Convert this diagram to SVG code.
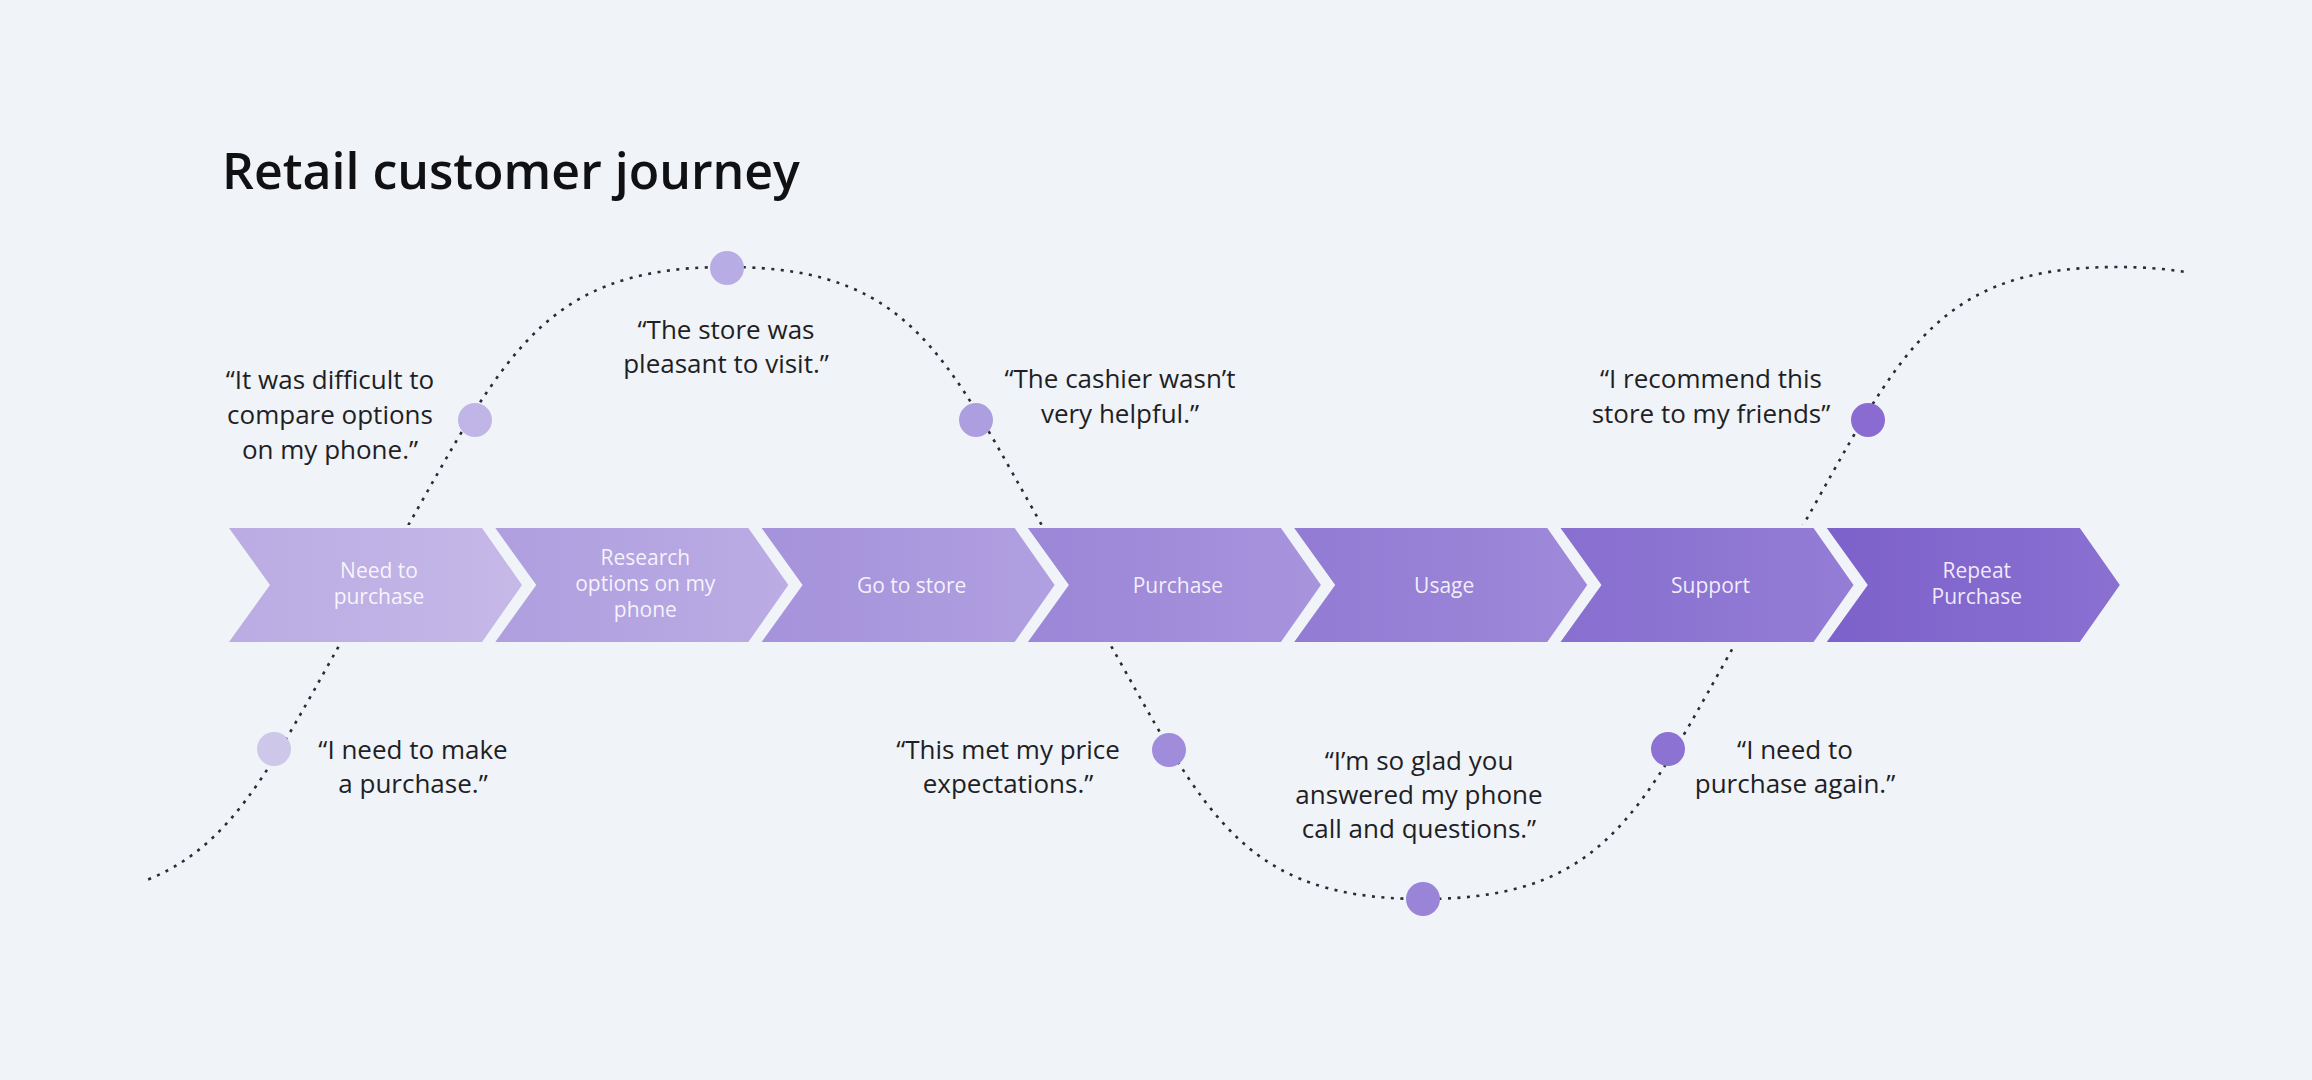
<svg xmlns="http://www.w3.org/2000/svg" width="2312" height="1080" viewBox="0 0 2312 1080">
<defs>
<style>
.title{font-family:"Open Sans","Liberation Sans",sans-serif;font-weight:600;font-size:50px;fill:#111114}
.q{font-family:"Open Sans","Liberation Sans",sans-serif;font-size:26px;fill:#1f1f25;text-anchor:middle}
.st{font-family:"Open Sans","Liberation Sans",sans-serif;font-size:21px;fill:#ffffff;fill-opacity:0.88;text-anchor:middle}
.curve{fill:none;stroke:#2b2b33;stroke-width:2.6;stroke-dasharray:3 6.5}
.sheen{fill:url(#sheen)}
</style>
<linearGradient id="sheen" x1="0" y1="0" x2="1" y2="0">
<stop offset="0" stop-color="#5a3fb0" stop-opacity="0.06"/>
<stop offset="1" stop-color="#ffffff" stop-opacity="0.08"/>
</linearGradient>
<clipPath id="cclip">
<rect x="143" y="0" width="2042" height="525"/>
<rect x="143" y="646" width="2042" height="434"/>
</clipPath>
<path id="chev" d="M0 528 L253 528 L293 585 L253 642 L0 642 L41 585 Z"/>
</defs>
<rect width="2312" height="1080" fill="#f0f3f7"/>
<text class="title" x="222" y="189">Retail customer journey</text>

<g id="connectors" clip-path="url(#cclip)">
<path class="curve" d="M 27 899 C 227 899, 250 795.5, 375 583 C 500 370.5, 527 267, 727 267 C 927 267, 950 370.5, 1075 583 C 1200 795.5, 1223 899, 1423 899 C 1623 899, 1645 795.5, 1770 583 C 1895 370.5, 1917 267, 2117 267 C 2317 267, 2340 370.5, 2465 583"/>
</g>

<g id="stage-1" transform="translate(229 0)">
<use href="#chev" fill="#c1b3e6"/><use href="#chev" class="sheen"/>
<text class="st" x="150" y="578">Need to</text><text class="st" x="150" y="604">purchase</text>
</g>
<g id="stage-2" transform="translate(495.3 0)">
<use href="#chev" fill="#b5a5e2"/><use href="#chev" class="sheen"/>
<text class="st" x="150" y="565">Research</text><text class="st" x="150" y="591">options on my</text><text class="st" x="150" y="617">phone</text>
</g>
<g id="stage-3" transform="translate(761.6 0)">
<use href="#chev" fill="#aa98de"/><use href="#chev" class="sheen"/>
<text class="st" x="150" y="593">Go to store</text>
</g>
<g id="stage-4" transform="translate(1027.9 0)">
<use href="#chev" fill="#a08bda"/><use href="#chev" class="sheen"/>
<text class="st" x="150" y="593">Purchase</text>
</g>
<g id="stage-5" transform="translate(1294.2 0)">
<use href="#chev" fill="#967fd6"/><use href="#chev" class="sheen"/>
<text class="st" x="150" y="593">Usage</text>
</g>
<g id="stage-6" transform="translate(1560.5 0)">
<use href="#chev" fill="#8b72d2"/><use href="#chev" class="sheen"/>
<text class="st" x="150" y="593">Support</text>
</g>
<g id="stage-7" transform="translate(1826.8 0)">
<use href="#chev" fill="#8064cd"/><use href="#chev" class="sheen"/>
<text class="st" x="150" y="578">Repeat</text><text class="st" x="150" y="604">Purchase</text>
</g>

<g id="quote-need">
<circle cx="274" cy="749" r="17" fill="#cdc7ea"/>
<text class="q" x="413" y="759">“I need to make</text><text class="q" x="413" y="793">a purchase.”</text>
</g>
<g id="quote-compare">
<circle cx="475" cy="420" r="17" fill="#c0b5e6"/>
<text class="q" x="330" y="389">“It was difficult to</text><text class="q" x="330" y="424">compare options</text><text class="q" x="330" y="459">on my phone.”</text>
</g>
<g id="quote-store">
<circle cx="727" cy="268" r="17" fill="#b8ace4"/>
<text class="q" x="726" y="339">“The store was</text><text class="q" x="726" y="373">pleasant to visit.”</text>
</g>
<g id="quote-cashier">
<circle cx="976" cy="420" r="17" fill="#ad9ee0"/>
<text class="q" x="1120" y="388">“The cashier wasn’t</text><text class="q" x="1120" y="423">very helpful.”</text>
</g>
<g id="quote-price">
<circle cx="1169" cy="750" r="17" fill="#a08cdb"/>
<text class="q" x="1008" y="759">“This met my price</text><text class="q" x="1008" y="793">expectations.”</text>
</g>
<g id="quote-glad">
<circle cx="1423" cy="899" r="17" fill="#9984d8"/>
<text class="q" x="1419" y="770">“I’m so glad you</text><text class="q" x="1419" y="804">answered my phone</text><text class="q" x="1419" y="838">call and questions.”</text>
</g>
<g id="quote-again">
<circle cx="1668" cy="749" r="17" fill="#8c72d3"/>
<text class="q" x="1795" y="759">“I need to</text><text class="q" x="1795" y="793">purchase again.”</text>
</g>
<g id="quote-recommend">
<circle cx="1868" cy="420" r="17" fill="#8a6bd1"/>
<text class="q" x="1711" y="388">“I recommend this</text><text class="q" x="1711" y="423">store to my friends”</text>
</g>
</svg>
